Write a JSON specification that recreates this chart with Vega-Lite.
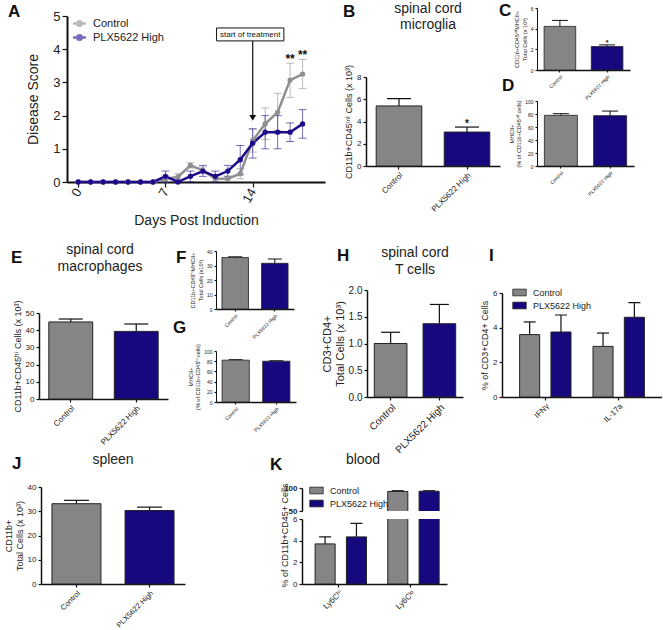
{
"$schema":"https://vega.github.io/schema/vega-lite/v6.json",
"padding":0,
"background":"white",
"config":{"font":"Liberation Sans","view":{"stroke":null},
 "axis":{"grid":false,"domainColor":"#111","tickColor":"#111","labelColor":"#222","titleColor":"#222","titleFontWeight":"normal","domainWidth":1.5,"tickWidth":1.2,"tickSize":3,"labelPadding":2,"titlePadding":3,"labelOverlap":false,"labelFlush":false},
 "title":{"color":"#111"},
 "legend":{"labelColor":"#222"}},
"spacing":0,"bounds":"flush",
"resolve":{"scale":{"color":"independent"},"legend":{"color":"independent"}},
"vconcat":[
 {"hconcat":[{"width":8,"height":1,"data":{"values":[]},"mark":"point"},{"width":2,"height":1,"data":{"values":[]},"mark":"point","title":{"text":"A","anchor":"start","frame":"group","offset":-21,"fontSize":17,"fontWeight":"bold"}}],"spacing":0,"bounds":"flush"},
 {"hconcat":[{"width":343,"height":1,"data":{"values":[]},"mark":"point"},{"width":2,"height":1,"data":{"values":[]},"mark":"point","title":{"text":"B","anchor":"start","frame":"group","offset":-21,"fontSize":17,"fontWeight":"bold"}}],"spacing":0,"bounds":"flush"},
 {"hconcat":[{"width":499,"height":1,"data":{"values":[]},"mark":"point"},{"width":2,"height":1,"data":{"values":[]},"mark":"point","title":{"text":"C","anchor":"start","frame":"group","offset":-20,"fontSize":17,"fontWeight":"bold"}}],"spacing":0,"bounds":"flush"},
 {"hconcat":[{"width":502,"height":1,"data":{"values":[]},"mark":"point"},{"width":2,"height":1,"data":{"values":[]},"mark":"point","title":{"text":"D","anchor":"start","frame":"group","offset":-95,"fontSize":17,"fontWeight":"bold"}}],"spacing":0,"bounds":"flush"},
 {"hconcat":[{"width":11,"height":1,"data":{"values":[]},"mark":"point"},{"width":2,"height":1,"data":{"values":[]},"mark":"point","title":{"text":"E","anchor":"start","frame":"group","offset":-267,"fontSize":17,"fontWeight":"bold"}}],"spacing":0,"bounds":"flush"},
 {"hconcat":[{"width":176,"height":1,"data":{"values":[]},"mark":"point"},{"width":2,"height":1,"data":{"values":[]},"mark":"point","title":{"text":"F","anchor":"start","frame":"group","offset":-267,"fontSize":17,"fontWeight":"bold"}}],"spacing":0,"bounds":"flush"},
 {"hconcat":[{"width":173,"height":1,"data":{"values":[]},"mark":"point"},{"width":2,"height":1,"data":{"values":[]},"mark":"point","title":{"text":"G","anchor":"start","frame":"group","offset":-337,"fontSize":17,"fontWeight":"bold"}}],"spacing":0,"bounds":"flush"},
 {"hconcat":[{"width":337,"height":1,"data":{"values":[]},"mark":"point"},{"width":2,"height":1,"data":{"values":[]},"mark":"point","title":{"text":"H","anchor":"start","frame":"group","offset":-265,"fontSize":17,"fontWeight":"bold"}}],"spacing":0,"bounds":"flush"},
 {"hconcat":[{"width":489,"height":1,"data":{"values":[]},"mark":"point"},{"width":2,"height":1,"data":{"values":[]},"mark":"point","title":{"text":"I","anchor":"start","frame":"group","offset":-265,"fontSize":17,"fontWeight":"bold"}}],"spacing":0,"bounds":"flush"},
 {"hconcat":[{"width":12,"height":1,"data":{"values":[]},"mark":"point"},{"width":2,"height":1,"data":{"values":[]},"mark":"point","title":{"text":"J","anchor":"start","frame":"group","offset":-473,"fontSize":17,"fontWeight":"bold"}}],"spacing":0,"bounds":"flush"},
 {"hconcat":[{"width":270,"height":1,"data":{"values":[]},"mark":"point"},{"width":2,"height":1,"data":{"values":[]},"mark":"point","title":{"text":"K","anchor":"start","frame":"group","offset":-474,"fontSize":17,"fontWeight":"bold"}}],"spacing":0,"bounds":"flush"},

 {"hconcat":[{"width":427,"height":1,"data":{"values":[]},"mark":"point"},{"width":2,"height":1,"data":{"values":[]},"mark":"point","title":{"text":"spinal cord","anchor":"middle","frame":"group","offset":-16,"fontSize":14,"fontWeight":"normal","color":"#222"}}],"spacing":0,"bounds":"flush"},
 {"hconcat":[{"width":427,"height":1,"data":{"values":[]},"mark":"point"},{"width":2,"height":1,"data":{"values":[]},"mark":"point","title":{"text":"microglia","anchor":"middle","frame":"group","offset":-32,"fontSize":14,"fontWeight":"normal","color":"#222"}}],"spacing":0,"bounds":"flush"},
 {"hconcat":[{"width":99,"height":1,"data":{"values":[]},"mark":"point"},{"width":2,"height":1,"data":{"values":[]},"mark":"point","title":{"text":"spinal cord","anchor":"middle","frame":"group","offset":-257,"fontSize":14,"fontWeight":"normal","color":"#222"}}],"spacing":0,"bounds":"flush"},
 {"hconcat":[{"width":99,"height":1,"data":{"values":[]},"mark":"point"},{"width":2,"height":1,"data":{"values":[]},"mark":"point","title":{"text":"macrophages","anchor":"middle","frame":"group","offset":-274,"fontSize":14,"fontWeight":"normal","color":"#222"}}],"spacing":0,"bounds":"flush"},
 {"hconcat":[{"width":414,"height":1,"data":{"values":[]},"mark":"point"},{"width":2,"height":1,"data":{"values":[]},"mark":"point","title":{"text":"spinal cord","anchor":"middle","frame":"group","offset":-260,"fontSize":14,"fontWeight":"normal","color":"#222"}}],"spacing":0,"bounds":"flush"},
 {"hconcat":[{"width":414,"height":1,"data":{"values":[]},"mark":"point"},{"width":2,"height":1,"data":{"values":[]},"mark":"point","title":{"text":"T cells","anchor":"middle","frame":"group","offset":-277,"fontSize":14,"fontWeight":"normal","color":"#222"}}],"spacing":0,"bounds":"flush"},
 {"hconcat":[{"width":112,"height":1,"data":{"values":[]},"mark":"point"},{"width":2,"height":1,"data":{"values":[]},"mark":"point","title":{"text":"spleen","anchor":"middle","frame":"group","offset":-467,"fontSize":14,"fontWeight":"normal","color":"#222"}}],"spacing":0,"bounds":"flush"},
 {"hconcat":[{"width":362,"height":1,"data":{"values":[]},"mark":"point"},{"width":2,"height":1,"data":{"values":[]},"mark":"point","title":{"text":"blood","anchor":"middle","frame":"group","offset":-467,"fontSize":14,"fontWeight":"normal","color":"#222"}}],"spacing":0,"bounds":"flush"},

 {"hconcat":[{"width":67,"height":1,"data":{"values":[]},"mark":"point"},{"vconcat":[{"width":1,"height":16,"data":{"values":[]},"mark":"point"},
  {"width":258,"height":166,
   "layer":[
    {"data":{"values":[
     {"day":0,"group":"Control","score":0,"lo":0,"hi":0},{"day":1,"group":"Control","score":0,"lo":0,"hi":0},{"day":2,"group":"Control","score":0,"lo":0,"hi":0},{"day":3,"group":"Control","score":0,"lo":0,"hi":0},{"day":4,"group":"Control","score":0,"lo":0,"hi":0},{"day":5,"group":"Control","score":0,"lo":0,"hi":0},{"day":6,"group":"Control","score":0,"lo":0,"hi":0},
     {"day":7,"group":"Control","score":0.1,"lo":0,"hi":0.2},{"day":8,"group":"Control","score":0.15,"lo":0.05,"hi":0.25},{"day":9,"group":"Control","score":0.5,"lo":0.42,"hi":0.58},{"day":10,"group":"Control","score":0.35,"lo":0.25,"hi":0.45},{"day":11,"group":"Control","score":0.1,"lo":0.02,"hi":0.18},{"day":12,"group":"Control","score":0.1,"lo":0.02,"hi":0.18},{"day":13,"group":"Control","score":0.25,"lo":0.1,"hi":0.4},{"day":14,"group":"Control","score":1.25,"lo":0.9,"hi":1.6},{"day":15,"group":"Control","score":1.75,"lo":1.28,"hi":2.23},{"day":16,"group":"Control","score":2.1,"lo":1.55,"hi":2.67},{"day":17,"group":"Control","score":3.07,"lo":2.55,"hi":3.58,"sig":"**"},{"day":18,"group":"Control","score":3.25,"lo":2.82,"hi":3.69,"sig":"**"},
     {"day":0,"group":"PLX5622 High","score":0,"lo":0,"hi":0},{"day":1,"group":"PLX5622 High","score":0,"lo":0,"hi":0},{"day":2,"group":"PLX5622 High","score":0,"lo":0,"hi":0},{"day":3,"group":"PLX5622 High","score":0,"lo":0,"hi":0},{"day":4,"group":"PLX5622 High","score":0,"lo":0,"hi":0},{"day":5,"group":"PLX5622 High","score":0,"lo":0,"hi":0},{"day":6,"group":"PLX5622 High","score":0,"lo":0,"hi":0},
     {"day":7,"group":"PLX5622 High","score":0.17,"lo":0,"hi":0.33},{"day":8,"group":"PLX5622 High","score":0,"lo":0,"hi":0},{"day":9,"group":"PLX5622 High","score":0.17,"lo":0,"hi":0.33},{"day":10,"group":"PLX5622 High","score":0.33,"lo":0.17,"hi":0.5},{"day":11,"group":"PLX5622 High","score":0.17,"lo":0,"hi":0.33},{"day":12,"group":"PLX5622 High","score":0.33,"lo":0.17,"hi":0.5},{"day":13,"group":"PLX5622 High","score":0.67,"lo":0.22,"hi":1.1},{"day":14,"group":"PLX5622 High","score":1.17,"lo":0.72,"hi":1.6},{"day":15,"group":"PLX5622 High","score":1.5,"lo":1.0,"hi":2.0},{"day":16,"group":"PLX5622 High","score":1.5,"lo":1.0,"hi":2.0},{"day":17,"group":"PLX5622 High","score":1.5,"lo":1.22,"hi":1.78},{"day":18,"group":"PLX5622 High","score":1.75,"lo":1.32,"hi":2.18}
    ]},
    "encoding":{"x":{"field":"day","type":"quantitative","scale":{"domain":[-0.9,19.8],"nice":false,"zero":false},"axis":{"values":[0,7,14],"tickCount":20,"format":"d","labelAngle":-60,"labelFontSize":13,"title":"Days Post Induction","titleFontSize":14,"tickSize":5,"domainWidth":2,"titlePadding":8,"labelOverlap":false}},
     "color":{"field":"group","type":"nominal","scale":{"domain":["Control","PLX5622 High"],"range":["#8f8f8f","#1c0c8c"]}}},
    "layer":[
     {"mark":{"type":"rule","strokeWidth":1,"opacity":0.6},"encoding":{"y":{"field":"lo","type":"quantitative","scale":{"domain":[0,5],"nice":false},"axis":{"values":[0,1,2,3,4,5],"tickCount":20,"format":"d","labelFontSize":13,"title":"Disease Score","titleFontSize":14,"tickSize":5,"domainWidth":2,"titlePadding":12,"labelOverlap":false}},"y2":{"field":"hi"}}},
     {"mark":{"type":"tick","orient":"horizontal","size":8,"thickness":1,"opacity":0.6},"encoding":{"y":{"field":"lo","type":"quantitative"}}},
     {"mark":{"type":"tick","orient":"horizontal","size":8,"thickness":1,"opacity":0.6},"encoding":{"y":{"field":"hi","type":"quantitative"}}},
     {"mark":{"type":"line","strokeWidth":2.5},"encoding":{"y":{"field":"score","type":"quantitative"},"color":{"field":"group","type":"nominal","scale":{"domain":["Control","PLX5622 High"],"range":["#8f8f8f","#1c0c8c"]},"legend":{"orient":"none","legendX":6,"legendY":1,"title":null,"labelFontSize":11,"symbolType":"M-1.3,0H1.3M-0.45,0A0.45,0.45,0,1,0,0.45,0A0.45,0.45,0,1,0,-0.45,0","symbolSize":100,"symbolStrokeWidth":2.5,"symbolOpacity":1,"rowPadding":-5,"labelOffset":7}}}},
     {"mark":{"type":"point","filled":true,"size":28,"opacity":1},"encoding":{"y":{"field":"score","type":"quantitative"}}},
     {"transform":[{"filter":"datum.sig"}],"mark":{"type":"text","fontSize":12,"fontWeight":"bold","baseline":"alphabetic","color":"#111"},"encoding":{"y":{"field":"hi","type":"quantitative"},"text":{"field":"sig"},"color":{"value":"#111"}}}
    ]},
    {"data":{"values":[{"day":14,"tx":13.8,"bx1":11.1,"bx2":16.5,"by1":4.25,"by2":4.64,"ty":4.44,"ay2":2.0,"ah":1.93,"label":"start of treatment"}]},
     "layer":[
      {"mark":{"type":"rule","color":"#111","strokeWidth":1.2},"encoding":{"x":{"field":"day","type":"quantitative"},"y":{"field":"by1","type":"quantitative"},"y2":{"field":"ay2"}}},
      {"mark":{"type":"point","shape":"triangle-down","filled":true,"size":45,"color":"#111","opacity":1},"encoding":{"x":{"field":"day","type":"quantitative"},"y":{"field":"ah","type":"quantitative"}}},
      {"mark":{"type":"rect","fill":"white","stroke":"#111","strokeWidth":1},"encoding":{"x":{"field":"bx1","type":"quantitative"},"x2":{"field":"bx2"},"y":{"field":"by1","type":"quantitative"},"y2":{"field":"by2"}}},
      {"mark":{"type":"text","fontSize":8,"color":"#111"},"encoding":{"x":{"field":"tx","type":"quantitative"},"y":{"field":"ty","type":"quantitative"},"text":{"field":"label"}}}
     ]}
   ]}
 ],"spacing":0,"bounds":"flush","resolve":{"scale":{"color":"independent"},"legend":{"color":"independent"}}}],"spacing":0,"bounds":"flush","resolve":{"scale":{"color":"independent"},"legend":{"color":"independent"}}},

 {"hconcat":[{"width":366,"height":1,"data":{"values":[]},"mark":"point"},{"vconcat":[{"width":1,"height":77,"data":{"values":[]},"mark":"point"},
  {"width":134,"height":89,
   "data":{"values":[{"group":"Control","value":5.4,"upper":6.05},{"group":"PLX5622 High","value":3.05,"upper":3.5,"sig":"*"}]},
   "encoding":{"x":{"field":"group","type":"nominal","sort":null,"scale":{"paddingInner":0.33,"paddingOuter":0.15},"axis":{"title":null,"labelAngle":-45,"labelFontSize":8,"labelOverlap":false}}},
   "layer":[
    {"mark":{"type":"rule","color":"#111","strokeWidth":1.2},"encoding":{"y":{"field":"value","type":"quantitative","scale":{"domain":[0,8],"nice":false},"axis":{"values":[0,2,4,6,8],"tickCount":20,"format":"d","title":"CD11b+CD45ⁱⁿᵗ Cells (x 10³)","labelFontSize":8,"titleFontSize":9,"labelOverlap":false}},"y2":{"field":"upper"}}},
    {"mark":{"type":"tick","orient":"horizontal","color":"#111","size":24,"thickness":1.2,"opacity":1},"encoding":{"y":{"field":"upper","type":"quantitative"}}},
    {"mark":{"type":"bar","stroke":"#222","strokeWidth":1},"encoding":{"y":{"field":"value","type":"quantitative"},"color":{"field":"group","type":"nominal","scale":{"domain":["Control","PLX5622 High"],"range":["#858585","#16087f"]},"legend":null}}},
    {"transform":[{"filter":"datum.sig"}],"mark":{"type":"text","fontSize":10,"fontWeight":"bold","baseline":"alphabetic","color":"#111"},"encoding":{"y":{"field":"upper","type":"quantitative"},"text":{"field":"sig"}}}
   ]}
 ],"spacing":0,"bounds":"flush","resolve":{"scale":{"color":"independent"},"legend":{"color":"independent"}}}],"spacing":0,"bounds":"flush","resolve":{"scale":{"color":"independent"},"legend":{"color":"independent"}}},

 {"hconcat":[{"width":537,"height":1,"data":{"values":[]},"mark":"point"},{"vconcat":[{"width":1,"height":8,"data":{"values":[]},"mark":"point"},
  {"width":93,"height":62,
   "data":{"values":[{"group":"Control","value":4.22,"upper":4.8},{"group":"PLX5622 High","value":2.27,"upper":2.43,"sig":"*"}]},
   "encoding":{"x":{"field":"group","type":"nominal","sort":null,"scale":{"paddingInner":0.33,"paddingOuter":0.15},"axis":{"title":null,"labelAngle":-45,"labelFontSize":5,"tickSize":2,"labelOverlap":false}}},
   "layer":[
    {"mark":{"type":"rule","color":"#111","strokeWidth":1},"encoding":{"y":{"field":"value","type":"quantitative","scale":{"domain":[0,6],"nice":false},"axis":{"values":[0,2,4,6],"tickCount":20,"format":"d","title":["CD11b+CD45ⁱⁿᵗMHCII+","Total Cells (x 10³)"],"labelFontSize":5,"titleFontSize":5.5,"tickSize":2,"domainWidth":1,"labelOverlap":false}},"y2":{"field":"upper"}}},
    {"mark":{"type":"tick","orient":"horizontal","color":"#111","size":16,"thickness":1,"opacity":1},"encoding":{"y":{"field":"upper","type":"quantitative"}}},
    {"mark":{"type":"bar","stroke":"#222","strokeWidth":0.8},"encoding":{"y":{"field":"value","type":"quantitative"},"color":{"field":"group","type":"nominal","scale":{"domain":["Control","PLX5622 High"],"range":["#858585","#16087f"]},"legend":null}}},
    {"transform":[{"filter":"datum.sig"}],"mark":{"type":"text","fontSize":7,"fontWeight":"bold","baseline":"alphabetic","color":"#111"},"encoding":{"y":{"field":"upper","type":"quantitative"},"text":{"field":"sig"}}}
   ]}
 ],"spacing":0,"bounds":"flush","resolve":{"scale":{"color":"independent"},"legend":{"color":"independent"}}}],"spacing":0,"bounds":"flush","resolve":{"scale":{"color":"independent"},"legend":{"color":"independent"}}},

 {"hconcat":[{"width":537,"height":1,"data":{"values":[]},"mark":"point"},{"vconcat":[{"width":1,"height":101,"data":{"values":[]},"mark":"point"},
  {"width":97,"height":65,
   "data":{"values":[{"group":"Control","value":78,"upper":80.5},{"group":"PLX5622 High","value":77.5,"upper":84.5}]},
   "encoding":{"x":{"field":"group","type":"nominal","sort":null,"scale":{"paddingInner":0.33,"paddingOuter":0.15},"axis":{"title":null,"labelAngle":-45,"labelFontSize":5,"tickSize":2,"labelOverlap":false}}},
   "layer":[
    {"mark":{"type":"rule","color":"#111","strokeWidth":1},"encoding":{"y":{"field":"value","type":"quantitative","scale":{"domain":[0,100],"nice":false},"axis":{"values":[0,20,40,60,80,100],"tickCount":20,"format":"d","title":["MHCII+","(% of CD11b+CD45ⁱⁿᵗ cells)"],"labelFontSize":5,"titleFontSize":5.5,"tickSize":2,"domainWidth":1,"labelOverlap":false}},"y2":{"field":"upper"}}},
    {"mark":{"type":"tick","orient":"horizontal","color":"#111","size":16,"thickness":1,"opacity":1},"encoding":{"y":{"field":"upper","type":"quantitative"}}},
    {"mark":{"type":"bar","stroke":"#222","strokeWidth":0.8},"encoding":{"y":{"field":"value","type":"quantitative"},"color":{"field":"group","type":"nominal","scale":{"domain":["Control","PLX5622 High"],"range":["#858585","#16087f"]},"legend":null}}}
   ]}
 ],"spacing":0,"bounds":"flush","resolve":{"scale":{"color":"independent"},"legend":{"color":"independent"}}}],"spacing":0,"bounds":"flush","resolve":{"scale":{"color":"independent"},"legend":{"color":"independent"}}},

 {"hconcat":[{"width":39,"height":1,"data":{"values":[]},"mark":"point"},{"vconcat":[{"width":1,"height":313,"data":{"values":[]},"mark":"point"},
  {"width":129,"height":86,
   "data":{"values":[{"group":"Control","value":44.8,"upper":46.5},{"group":"PLX5622 High","value":39.3,"upper":43.6}]},
   "encoding":{"x":{"field":"group","type":"nominal","sort":null,"scale":{"paddingInner":0.33,"paddingOuter":0.15},"axis":{"title":null,"labelAngle":-45,"labelFontSize":8,"labelOverlap":false}}},
   "layer":[
    {"mark":{"type":"rule","color":"#111","strokeWidth":1.2},"encoding":{"y":{"field":"value","type":"quantitative","scale":{"domain":[0,50],"nice":false},"axis":{"values":[0,10,20,30,40,50],"tickCount":20,"format":"d","title":"CD11b+CD45ʰⁱ Cells (x 10³)","labelFontSize":8,"titleFontSize":9,"labelOverlap":false}},"y2":{"field":"upper"}}},
    {"mark":{"type":"tick","orient":"horizontal","color":"#111","size":24,"thickness":1.2,"opacity":1},"encoding":{"y":{"field":"upper","type":"quantitative"}}},
    {"mark":{"type":"bar","stroke":"#222","strokeWidth":1},"encoding":{"y":{"field":"value","type":"quantitative"},"color":{"field":"group","type":"nominal","scale":{"domain":["Control","PLX5622 High"],"range":["#858585","#16087f"]},"legend":null}}}
   ]}
 ],"spacing":0,"bounds":"flush","resolve":{"scale":{"color":"independent"},"legend":{"color":"independent"}}}],"spacing":0,"bounds":"flush","resolve":{"scale":{"color":"independent"},"legend":{"color":"independent"}}},

 {"hconcat":[{"width":216,"height":1,"data":{"values":[]},"mark":"point"},{"vconcat":[{"width":1,"height":251,"data":{"values":[]},"mark":"point"},
  {"width":78,"height":58,
   "data":{"values":[{"group":"Control","value":35.5,"upper":36},{"group":"PLX5622 High","value":31.5,"upper":34.5}]},
   "encoding":{"x":{"field":"group","type":"nominal","sort":null,"scale":{"paddingInner":0.33,"paddingOuter":0.15},"axis":{"title":null,"labelAngle":-45,"labelFontSize":5,"tickSize":2,"labelOverlap":false}}},
   "layer":[
    {"mark":{"type":"rule","color":"#111","strokeWidth":1},"encoding":{"y":{"field":"value","type":"quantitative","scale":{"domain":[0,40],"nice":false},"axis":{"values":[0,10,20,30,40],"tickCount":20,"format":"d","title":["CD11b+CD45ʰⁱMHCII+","Total Cells (x10³)"],"labelFontSize":5,"titleFontSize":5.5,"tickSize":2,"domainWidth":1,"labelOverlap":false}},"y2":{"field":"upper"}}},
    {"mark":{"type":"tick","orient":"horizontal","color":"#111","size":14,"thickness":1,"opacity":1},"encoding":{"y":{"field":"upper","type":"quantitative"}}},
    {"mark":{"type":"bar","stroke":"#222","strokeWidth":0.8},"encoding":{"y":{"field":"value","type":"quantitative"},"color":{"field":"group","type":"nominal","scale":{"domain":["Control","PLX5622 High"],"range":["#858585","#16087f"]},"legend":null}}}
   ]}
 ],"spacing":0,"bounds":"flush","resolve":{"scale":{"color":"independent"},"legend":{"color":"independent"}}}],"spacing":0,"bounds":"flush","resolve":{"scale":{"color":"independent"},"legend":{"color":"independent"}}},

 {"hconcat":[{"width":216,"height":1,"data":{"values":[]},"mark":"point"},{"vconcat":[{"width":1,"height":351,"data":{"values":[]},"mark":"point"},
  {"width":80,"height":51,
   "data":{"values":[{"group":"Control","value":82,"upper":83},{"group":"PLX5622 High","value":80,"upper":81}]},
   "encoding":{"x":{"field":"group","type":"nominal","sort":null,"scale":{"paddingInner":0.33,"paddingOuter":0.15},"axis":{"title":null,"labelAngle":-45,"labelFontSize":5,"tickSize":2,"labelOverlap":false}}},
   "layer":[
    {"mark":{"type":"rule","color":"#111","strokeWidth":1},"encoding":{"y":{"field":"value","type":"quantitative","scale":{"domain":[0,100],"nice":false},"axis":{"values":[0,20,40,60,80,100],"tickCount":20,"format":"d","title":["MHCII+","(% of CD11b+CD45ʰⁱ cells)"],"labelFontSize":5,"titleFontSize":5.5,"tickSize":2,"domainWidth":1,"labelOverlap":false}},"y2":{"field":"upper"}}},
    {"mark":{"type":"tick","orient":"horizontal","color":"#111","size":14,"thickness":1,"opacity":1},"encoding":{"y":{"field":"upper","type":"quantitative"}}},
    {"mark":{"type":"bar","stroke":"#222","strokeWidth":0.8},"encoding":{"y":{"field":"value","type":"quantitative"},"color":{"field":"group","type":"nominal","scale":{"domain":["Control","PLX5622 High"],"range":["#858585","#16087f"]},"legend":null}}}
   ]}
 ],"spacing":0,"bounds":"flush","resolve":{"scale":{"color":"independent"},"legend":{"color":"independent"}}}],"spacing":0,"bounds":"flush","resolve":{"scale":{"color":"independent"},"legend":{"color":"independent"}}},

 {"hconcat":[{"width":367,"height":1,"data":{"values":[]},"mark":"point"},{"vconcat":[{"width":1,"height":290,"data":{"values":[]},"mark":"point"},
  {"width":96,"height":107,
   "data":{"values":[{"group":"Control","value":1.0,"upper":1.21},{"group":"PLX5622 High","value":1.37,"upper":1.73}]},
   "encoding":{"x":{"field":"group","type":"nominal","sort":null,"scale":{"paddingInner":0.33,"paddingOuter":0.15},"axis":{"title":null,"labelAngle":-45,"labelFontSize":10,"labelOverlap":false}}},
   "layer":[
    {"mark":{"type":"rule","color":"#111","strokeWidth":1.2},"encoding":{"y":{"field":"value","type":"quantitative","scale":{"domain":[0,2],"nice":false},"axis":{"values":[0,0.5,1,1.5,2],"tickCount":20,"format":".1f","title":["CD3+CD4+","Total Cells (x 10³)"],"labelFontSize":10,"titleFontSize":11,"labelOverlap":false}},"y2":{"field":"upper"}}},
    {"mark":{"type":"tick","orient":"horizontal","color":"#111","size":19,"thickness":1.2,"opacity":1},"encoding":{"y":{"field":"upper","type":"quantitative"}}},
    {"mark":{"type":"bar","stroke":"#222","strokeWidth":1},"encoding":{"y":{"field":"value","type":"quantitative"},"color":{"field":"group","type":"nominal","scale":{"domain":["Control","PLX5622 High"],"range":["#858585","#16087f"]},"legend":null}}}
   ]}
 ],"spacing":0,"bounds":"flush","resolve":{"scale":{"color":"independent"},"legend":{"color":"independent"}}}],"spacing":0,"bounds":"flush","resolve":{"scale":{"color":"independent"},"legend":{"color":"independent"}}},

 {"hconcat":[{"width":502,"height":1,"data":{"values":[]},"mark":"point"},{"vconcat":[{"width":1,"height":293,"data":{"values":[]},"mark":"point"},
  {"width":160,"height":104,
   "data":{"values":[{"cat":"IFNγ","group":"Control","value":3.6,"upper":4.33},{"cat":"IFNγ","group":"PLX5622 High","value":3.75,"upper":4.73},{"cat":"IL-17a","group":"Control","value":2.92,"upper":3.69},{"cat":"IL-17a","group":"PLX5622 High","value":4.6,"upper":5.45}]},
   "encoding":{"x":{"field":"cat","type":"nominal","sort":null,"scale":{"paddingInner":0.3,"paddingOuter":0.24},"axis":{"title":null,"labelAngle":-45,"labelFontSize":8,"labelOverlap":false}},
    "xOffset":{"field":"group","type":"nominal","sort":null,"scale":{"paddingInner":0.36,"paddingOuter":0}}},
   "layer":[
    {"mark":{"type":"rule","color":"#111","strokeWidth":1.2},"encoding":{"y":{"field":"value","type":"quantitative","scale":{"domain":[0,6],"nice":false},"axis":{"values":[0,2,4,6],"tickCount":20,"format":"d","title":"% of CD3+CD4+ Cells","labelFontSize":8,"titleFontSize":9,"labelOverlap":false}},"y2":{"field":"upper"}}},
    {"mark":{"type":"tick","orient":"horizontal","color":"#111","size":12,"thickness":1.2,"opacity":1},"encoding":{"y":{"field":"upper","type":"quantitative"}}},
    {"mark":{"type":"bar","stroke":"#222","strokeWidth":1},"encoding":{"y":{"field":"value","type":"quantitative"},"color":{"field":"group","type":"nominal","scale":{"domain":["Control","PLX5622 High"],"range":["#858585","#16087f"]},"legend":{"orient":"none","legendX":10,"legendY":-8,"title":null,"labelFontSize":9,"symbolType":"M-1,-0.5H1V0.5H-1Z","symbolSize":180,"symbolStrokeColor":"#222","symbolStrokeWidth":0.8,"symbolOpacity":1,"rowPadding":0,"labelOffset":6}}}}
   ]}
 ],"spacing":0,"bounds":"flush","resolve":{"scale":{"color":"independent"},"legend":{"color":"independent"}}}],"spacing":0,"bounds":"flush","resolve":{"scale":{"color":"independent"},"legend":{"color":"independent"}}},

 {"hconcat":[{"width":41,"height":1,"data":{"values":[]},"mark":"point"},{"vconcat":[{"width":1,"height":487,"data":{"values":[]},"mark":"point"},
  {"width":144,"height":97,
   "data":{"values":[{"group":"Control","value":33.1,"upper":34.5},{"group":"PLX5622 High","value":30.3,"upper":31.7}]},
   "encoding":{"x":{"field":"group","type":"nominal","sort":null,"scale":{"paddingInner":0.33,"paddingOuter":0.15},"axis":{"title":null,"labelAngle":-45,"labelFontSize":7.5,"labelOverlap":false}}},
   "layer":[
    {"mark":{"type":"rule","color":"#111","strokeWidth":1.2},"encoding":{"y":{"field":"value","type":"quantitative","scale":{"domain":[0,40],"nice":false},"axis":{"values":[0,10,20,30,40],"tickCount":20,"format":"d","title":["CD11b+","Total Cells (x 10³)"],"labelFontSize":8,"titleFontSize":9,"labelOverlap":false}},"y2":{"field":"upper"}}},
    {"mark":{"type":"tick","orient":"horizontal","color":"#111","size":25,"thickness":1.2,"opacity":1},"encoding":{"y":{"field":"upper","type":"quantitative"}}},
    {"mark":{"type":"bar","stroke":"#222","strokeWidth":1},"encoding":{"y":{"field":"value","type":"quantitative"},"color":{"field":"group","type":"nominal","scale":{"domain":["Control","PLX5622 High"],"range":["#858585","#16087f"]},"legend":null}}}
   ]}
 ],"spacing":0,"bounds":"flush","resolve":{"scale":{"color":"independent"},"legend":{"color":"independent"}}}],"spacing":0,"bounds":"flush","resolve":{"scale":{"color":"independent"},"legend":{"color":"independent"}}},

 {"hconcat":[{"width":302,"height":1,"data":{"values":[]},"mark":"point"},{"vconcat":[{"width":1,"height":488,"data":{"values":[]},"mark":"point"},
  {"width":145,"height":23,
   "data":{"values":[{"cat":"Ly6Cʰⁱ","group":"Control","value":3.7,"upper":4.35},{"cat":"Ly6Cʰⁱ","group":"PLX5622 High","value":4.35,"upper":5.6},{"cat":"Ly6Cˡᵒ","group":"Control","value":92.5,"upper":94},{"cat":"Ly6Cˡᵒ","group":"PLX5622 High","value":93,"upper":94}]},
   "encoding":{"x":{"field":"cat","type":"nominal","sort":null,"scale":{"paddingInner":0.365,"paddingOuter":0.18},"axis":null},
    "xOffset":{"field":"group","type":"nominal","sort":null,"scale":{"paddingInner":0.33,"paddingOuter":0}}},
   "layer":[
    {"mark":{"type":"rule","color":"#111","strokeWidth":1.2,"clip":true},"encoding":{"y":{"field":"value","type":"quantitative","scale":{"domain":[50,100],"nice":false,"zero":false},"axis":{"values":[50,100],"tickCount":20,"format":"d","title":null,"labelFontSize":8,"labelFontWeight":"bold","labelOverlap":false}},"y2":{"field":"upper"}}},
    {"mark":{"type":"tick","orient":"horizontal","color":"#111","size":12,"thickness":1.2,"opacity":1,"clip":true},"encoding":{"y":{"field":"upper","type":"quantitative"}}},
    {"mark":{"type":"bar","stroke":"#222","strokeWidth":1,"clip":true},"encoding":{"y":{"field":"value","type":"quantitative"},"color":{"field":"group","type":"nominal","scale":{"domain":["Control","PLX5622 High"],"range":["#858585","#16087f"]},"legend":{"orient":"none","legendX":7,"legendY":-5,"title":null,"labelFontSize":9,"symbolType":"M-1,-0.5H1V0.5H-1Z","symbolSize":180,"symbolStrokeColor":"#222","symbolStrokeWidth":0.8,"symbolOpacity":1,"rowPadding":0,"labelOffset":6}}}}
   ]}
 ],"spacing":0,"bounds":"flush","resolve":{"scale":{"color":"independent"},"legend":{"color":"independent"}}}],"spacing":0,"bounds":"flush","resolve":{"scale":{"color":"independent"},"legend":{"color":"independent"}}},

 {"hconcat":[{"width":302,"height":1,"data":{"values":[]},"mark":"point"},{"vconcat":[{"width":1,"height":519,"data":{"values":[]},"mark":"point"},
  {"width":145,"height":65,
   "data":{"values":[{"cat":"Ly6Cʰⁱ","group":"Control","value":3.7,"upper":4.35},{"cat":"Ly6Cʰⁱ","group":"PLX5622 High","value":4.35,"upper":5.6},{"cat":"Ly6Cˡᵒ","group":"Control","value":92.5,"upper":94},{"cat":"Ly6Cˡᵒ","group":"PLX5622 High","value":93,"upper":94}]},
   "encoding":{"x":{"field":"cat","type":"nominal","sort":null,"scale":{"paddingInner":0.365,"paddingOuter":0.18},"axis":{"title":null,"labelAngle":-45,"labelFontSize":8,"labelOverlap":false}},
    "xOffset":{"field":"group","type":"nominal","sort":null,"scale":{"paddingInner":0.33,"paddingOuter":0}}},
   "layer":[
    {"mark":{"type":"rule","color":"#111","strokeWidth":1.2,"clip":true},"encoding":{"y":{"field":"value","type":"quantitative","scale":{"domain":[0,6],"nice":false},"axis":{"values":[0,2,4,6],"tickCount":20,"format":"d","title":"% of CD11b+CD45+ Cells","labelFontSize":8,"titleFontSize":9,"titleY":16,"labelOverlap":false}},"y2":{"field":"upper"}}},
    {"mark":{"type":"tick","orient":"horizontal","color":"#111","size":12,"thickness":1.2,"opacity":1,"clip":true},"encoding":{"y":{"field":"upper","type":"quantitative"}}},
    {"mark":{"type":"bar","stroke":"#222","strokeWidth":1,"clip":true},"encoding":{"y":{"field":"value","type":"quantitative"},"color":{"field":"group","type":"nominal","scale":{"domain":["Control","PLX5622 High"],"range":["#858585","#16087f"]},"legend":null}}}
   ]}
 ],"spacing":0,"bounds":"flush","resolve":{"scale":{"color":"independent"},"legend":{"color":"independent"}}}],"spacing":0,"bounds":"flush","resolve":{"scale":{"color":"independent"},"legend":{"color":"independent"}}}
]
}
